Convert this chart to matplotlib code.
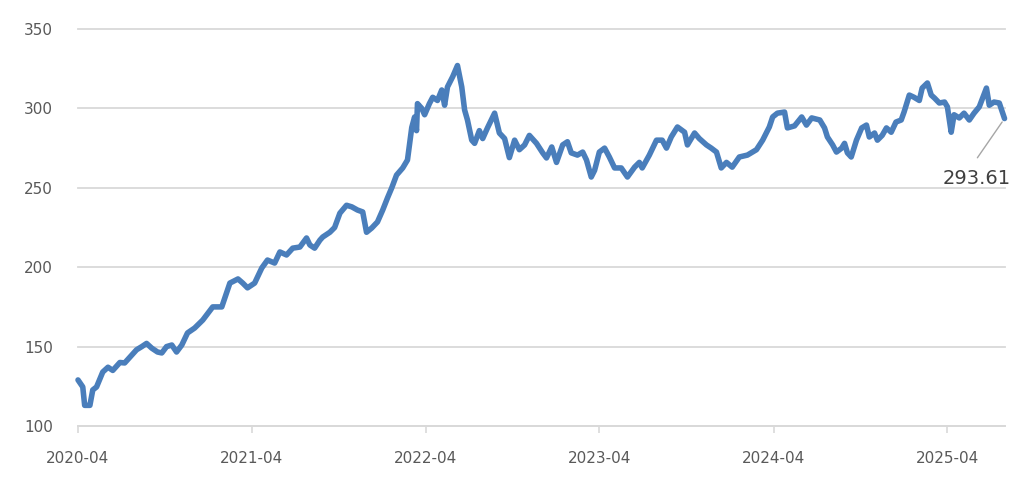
import matplotlib
matplotlib.use("Agg")
import matplotlib.pyplot as plt
import pandas as pd

dates = [
    "2020-04-01", "2020-04-11", "2020-04-15", "2020-04-26", "2020-05-02", "2020-05-10", "2020-05-23",
    "2020-06-03", "2020-06-13", "2020-06-28", "2020-07-08", "2020-07-23", "2020-08-02", "2020-08-13",
    "2020-08-23", "2020-09-03", "2020-09-15", "2020-09-24", "2020-10-04", "2020-10-15", "2020-10-25",
    "2020-11-05", "2020-11-17", "2020-12-02", "2020-12-19", "2021-01-09", "2021-01-28", "2021-02-14",
    "2021-03-03", "2021-03-13", "2021-03-23", "2021-04-07", "2021-04-22", "2021-05-04", "2021-05-19",
    "2021-05-30", "2021-06-13", "2021-06-26", "2021-07-11", "2021-07-25", "2021-08-01", "2021-08-11",
    "2021-08-22", "2021-08-28", "2021-09-12", "2021-09-22", "2021-10-03", "2021-10-17", "2021-10-28",
    "2021-11-09", "2021-11-20", "2021-11-28", "2021-12-09", "2021-12-21", "2022-01-01", "2022-01-11",
    "2022-01-20", "2022-01-30", "2022-02-12", "2022-02-22", "2022-03-03", "2022-03-09", "2022-03-13",
    "2022-03-15", "2022-03-24", "2022-03-30", "2022-04-09", "2022-04-16", "2022-04-26", "2022-05-05",
    "2022-05-11", "2022-05-17", "2022-05-28", "2022-06-07", "2022-06-16", "2022-06-22", "2022-06-28",
    "2022-07-07", "2022-07-13", "2022-07-23", "2022-07-30", "2022-08-09", "2022-08-24", "2022-09-03",
    "2022-09-14", "2022-09-24", "2022-10-05", "2022-10-15", "2022-10-26", "2022-11-05", "2022-11-20",
    "2022-12-03", "2022-12-11", "2022-12-22", "2023-01-01", "2023-01-14", "2023-01-24", "2023-02-01",
    "2023-02-14", "2023-02-25", "2023-03-05", "2023-03-15", "2023-03-22", "2023-04-01", "2023-04-12",
    "2023-04-22", "2023-05-03", "2023-05-17", "2023-05-30", "2023-06-14", "2023-06-24", "2023-06-30",
    "2023-07-15", "2023-07-30", "2023-08-11", "2023-08-20", "2023-08-30", "2023-09-12", "2023-09-27",
    "2023-10-03", "2023-10-18", "2023-10-28", "2023-11-12", "2023-11-22", "2023-12-03", "2023-12-13",
    "2023-12-24", "2024-01-05", "2024-01-20", "2024-02-06", "2024-02-25", "2024-03-09", "2024-03-23",
    "2024-03-30", "2024-04-09", "2024-04-24", "2024-04-30", "2024-05-15", "2024-05-30", "2024-06-09",
    "2024-06-20", "2024-07-07", "2024-07-17", "2024-07-23", "2024-08-03", "2024-08-11", "2024-08-22",
    "2024-08-28", "2024-09-03", "2024-09-11", "2024-09-22", "2024-10-03", "2024-10-13", "2024-10-19",
    "2024-10-30", "2024-11-05", "2024-11-15", "2024-11-24", "2024-12-04", "2024-12-14", "2024-12-25",
    "2024-12-31", "2025-01-11", "2025-01-21", "2025-02-01", "2025-02-07", "2025-02-18", "2025-02-26",
    "2025-03-05", "2025-03-15", "2025-03-26", "2025-04-01", "2025-04-09", "2025-04-15", "2025-04-26",
    "2025-05-06", "2025-05-17", "2025-05-27", "2025-06-07", "2025-06-22", "2025-06-28", "2025-07-08",
    "2025-07-19", "2025-07-30",
]

values = [
    129.0, 124.6, 113.0, 113.0, 122.7, 124.6, 134.0,
    137.0, 135.0, 140.0, 139.7, 144.7, 148.0, 150.0,
    152.0, 149.0, 146.6, 146.0, 150.0, 151.0, 146.6,
    151.0, 158.6, 161.7, 166.7, 175.0, 175.0, 190.0,
    192.6, 190.0, 187.0, 190.0, 199.5, 204.5, 202.6,
    209.6, 207.7, 212.0, 212.7, 218.4, 214.0, 212.0,
    217.0, 219.0, 222.0, 225.0, 234.0, 239.0, 238.0,
    236.0, 234.8, 222.0, 224.7, 228.5, 236.0, 243.6,
    250.0, 258.0, 262.5, 267.5, 288.0, 294.6, 286.0,
    303.0, 300.0, 296.0, 303.0, 307.0, 305.0, 311.6,
    302.0, 313.5, 320.0, 327.0, 313.5, 299.0, 292.7,
    280.0, 278.0, 286.0, 281.0, 287.7, 297.0, 284.5,
    281.0, 269.0, 280.0, 274.0, 277.0, 283.0, 278.0,
    272.0, 268.8, 275.7, 266.0, 277.0, 279.0, 272.0,
    270.6, 272.5, 267.5, 256.8, 261.0, 272.5, 275.0,
    269.4, 262.5, 262.5, 256.8, 263.0, 266.0, 262.5,
    270.6, 280.0, 280.0, 275.0, 282.0, 288.3, 285.0,
    277.0, 284.5, 281.0, 277.0, 275.0, 272.5, 262.5,
    266.0, 263.0, 269.4, 270.6, 274.0, 280.0, 288.3,
    294.6, 297.0, 297.7, 287.7, 289.0, 294.6, 289.5,
    294.0, 292.7, 287.7, 282.0, 277.0, 272.5, 275.0,
    278.0, 272.0, 269.4, 280.0, 287.7, 289.5, 282.0,
    284.5, 280.0, 283.0, 287.7, 285.0, 291.4, 292.7,
    297.7, 308.4, 307.0, 305.0, 312.8, 316.0, 308.4,
    306.5, 303.4, 304.0, 301.0, 285.0, 296.0, 294.0,
    297.0, 292.7, 297.0, 301.0, 312.8, 302.0, 304.0,
    303.4, 293.61,
]

tick_dates = ["2020-04-01", "2021-04-01", "2022-04-01", "2023-04-01", "2024-04-01", "2025-04-01"]
tick_labels = ["2020-04", "2021-04", "2022-04", "2023-04", "2024-04", "2025-04"]
y_ticks = [100, 150, 200, 250, 300, 350]
last_label = "293.61"

x = pd.to_datetime(dates)
xt = pd.to_datetime(tick_dates)

fig = plt.figure(figsize=(10.29, 4.80), dpi=100)
ax = fig.add_axes([78 / 1029, 1 - 426 / 480, (1005 - 78) / 1029, (426 - 29) / 480])

ax.plot(x, values, color="#4A7EBB", linewidth=4.0, solid_joinstyle="round",
        solid_capstyle="round", clip_on=False, zorder=3)

ax.set_ylim(100, 350)
ax.set_xlim(pd.Timestamp("2020-04-01"), pd.Timestamp("2025-07-31"))
ax.set_yticks(y_ticks)
ax.set_xticks(xt)
ax.set_xticklabels(tick_labels)

grid_color = "#d9d9d9"
ax.yaxis.grid(True, color=grid_color, linewidth=1.3)
for gl in ax.get_ygridlines():
    gl.set_clip_on(False)
ax.xaxis.grid(False)
ax.set_axisbelow(True)

for s in ["top", "right", "left"]:
    ax.spines[s].set_visible(False)
ax.spines["bottom"].set_color(grid_color)
ax.spines["bottom"].set_linewidth(1.3)

ax.tick_params(axis="y", length=0, pad=18, labelsize=11, labelcolor="#595959")
ax.tick_params(axis="x", length=5, width=1.2, color=grid_color, direction="out",
               pad=13, labelsize=11, labelcolor="#595959")

ax.annotate(last_label, xy=(x[-1], values[-1]), xytext=(-20, -36), textcoords="offset points",
            ha="center", va="top", fontsize=14, color="#404040",
            arrowprops=dict(arrowstyle="-", color="#a6a6a6", linewidth=1.0,
                            relpos=(0.4, 1.0), shrinkA=7, shrinkB=3))

fig.savefig("out.png", dpi=100, facecolor="white")
